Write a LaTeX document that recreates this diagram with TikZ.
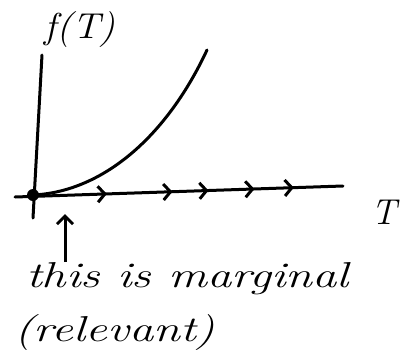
\documentclass[tikz,border=0pt]{standalone}
\usepackage{tikz}
\usetikzlibrary{arrows.meta,positioning,decorations.markings}
\tikzset{
    axis/.style={line width=3pt, line cap=round},
    curve/.style={line width=3pt, line cap=round},
    chev/.tip={Straight Barb[length=7pt,width=16pt,line width=3pt]},
    flowaxis/.style={axis, decoration={markings,
        mark=at position 0.28 with {\arrow{chev}},
        mark=at position 0.48 with {\arrow{chev}},
        mark=at position 0.59 with {\arrow{chev}},
        mark=at position 0.73 with {\arrow{chev}},
        mark=at position 0.85 with {\arrow{chev}}},
        postaction={decorate}},
    pointer/.style={-{Straight Barb[length=8pt,width=16pt,line width=3pt]}, line width=3pt},
    hand/.style={inner sep=0pt, font=\fontsize{36}{42}\selectfont\itshape}
}
\begin{document}
\begin{tikzpicture}[x=1pt, y=-1pt]
\useasboundingbox (0,0) rectangle (408,357);

\coordinate (O) at (33,195);
\coordinate (xl) at (15,197);
\coordinate (xr) at (343,186);
\coordinate (yb) at (33,218);
\coordinate (yt) at (42,55);
\coordinate (top) at (207,50);
\coordinate (tip) at (65,214);

\draw[axis] (yb) -- (yt);
\draw[flowaxis] (xl) -- (xr);
\draw[curve] (O) .. controls (100,192) and (165,140) .. (top);
\fill (O) circle (6pt);

\node[hand] (flab) at (80,30) {\scalebox{1.1}[1]{f(T)}};
\node[hand] (tlab) at (384,212) {T};
\node[hand, anchor=north west] (note) at (26,262) {\scalebox{1.35}[1]{this is marginal}};
\node[hand, anchor=north west] (rel) at (14,314) {\scalebox{1.35}[1]{(relevant)}};

\draw[pointer] (tip |- note.north) -- (tip);
\end{tikzpicture}
\end{document}
